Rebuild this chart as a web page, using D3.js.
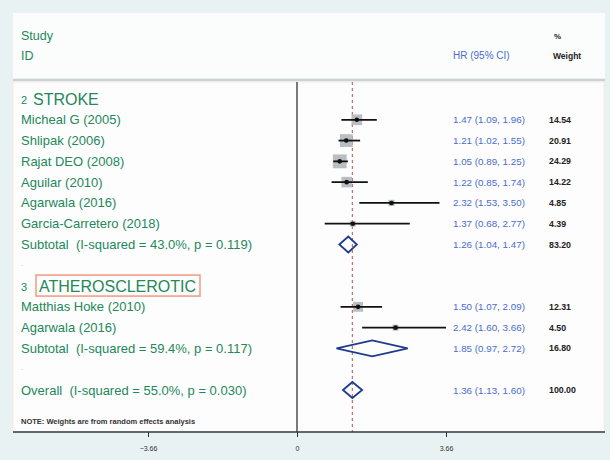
<!DOCTYPE html>
<html lang="en">
<head>
<meta charset="utf-8">
<title>Forest plot</title>
<script src="https://d3js.org/d3.v7.min.js"></script>
<style>
  body { margin: 0; background: #e9f2f3; }
  svg { display: block; font-family: "Liberation Sans", Arial, sans-serif; }
  text { white-space: pre; }
</style>
</head>
<body>
<svg width="610" height="460"></svg>
<script>
// data
const groupNums = ["2", "3"];
const groupNames = ["STROKE", "ATHEROSCLEROTIC"];

const strokeStudies = ["Micheal G (2005)", "Shlipak (2006)", "Rajat DEO (2008)", "Aguilar (2010)", "Agarwala (2016)", "Garcia-Carretero (2018)"];
const strokeHR = [1.47, 1.21, 1.05, 1.22, 2.32, 1.37];
const strokeLow = [1.09, 1.02, 0.89, 0.85, 1.53, 0.68];
const strokeHigh = [1.96, 1.55, 1.25, 1.74, 3.50, 2.77];
const strokeWeight = [14.54, 20.91, 24.29, 14.22, 4.85, 4.39];

const atheroStudies = ["Matthias Hoke (2010)", "Agarwala (2016)"];
const atheroHR = [1.50, 2.42];
const atheroLow = [1.07, 1.60];
const atheroHigh = [2.09, 3.66];
const atheroWeight = [12.31, 4.50];

const subtotalLabels = ["Subtotal  (I-squared = 43.0%, p = 0.119)", "Subtotal  (I-squared = 59.4%, p = 0.117)"];
const subtotalHR = [1.26, 1.85];
const subtotalLow = [1.04, 0.97];
const subtotalHigh = [1.47, 2.72];
const subtotalWeight = [83.20, 16.80];

const overallLabel = "Overall  (I-squared = 55.0%, p = 0.030)";
const overallHR = 1.36, overallLow = 1.13, overallHigh = 1.60, overallWeight = 100.00;

const xTicks = [-3.66, 0, 3.66];
const noteText = "NOTE: Weights are from random effects analysis";

// build the row list
const groups = [
  { studies: strokeStudies, hr: strokeHR, lo: strokeLow, hi: strokeHigh, w: strokeWeight },
  { studies: atheroStudies, hr: atheroHR, lo: atheroLow, hi: atheroHigh, w: atheroWeight }
];
const rows = [];
let idx = 0;
groups.forEach((g, gi) => {
  rows.push({ type: "head", row: idx++, num: groupNums[gi], label: groupNames[gi] });
  g.studies.forEach((s, i) => rows.push({ type: "study", row: idx++, label: s, hr: g.hr[i], lo: g.lo[i], hi: g.hi[i], w: g.w[i] }));
  rows.push({ type: "sub", row: idx++, label: subtotalLabels[gi], hr: subtotalHR[gi], lo: subtotalLow[gi], hi: subtotalHigh[gi], w: subtotalWeight[gi] });
  rows.push({ type: "blank", row: idx++ });
});
rows.push({ type: "sub", row: idx, label: overallLabel, hr: overallHR, lo: overallLow, hi: overallHigh, w: overallWeight, overall: true });

const green = "#23885a";
const blue = "#4a6ccc";
const navy = "#1f3c8c";

const svg = d3.select("svg");

const xScale = d3.scaleLinear().domain([-3.66, 3.66]).range([148, 446]);
const yScale = d3.scaleLinear().domain([0, idx]).range([99, 390]);
const side = d3.scaleSqrt().domain([0, 25]).range([0, 14]);
const f2 = d3.format(".2f");

// background panels
svg.append("rect").attr("width", 610).attr("height", 460).attr("fill", "#e9f2f3");
svg.append("rect").attr("x", 13).attr("y", 13).attr("width", 592).attr("height", 65).attr("fill", "#fbfcfc");
svg.append("line").attr("x1", 13).attr("x2", 605).attr("y1", 80).attr("y2", 80)
  .attr("stroke", "#c9d3d7").attr("stroke-width", 2);
svg.append("rect").attr("x", 13).attr("y", 82).attr("width", 591).attr("height", 350)
  .attr("fill", "#fdfdfd").attr("stroke", "#f3e6e2").attr("stroke-width", 0.8);

// header
svg.append("text").attr("x", 21).attr("y", 40).attr("fill", green).attr("font-size", 12.5).text("Study");
svg.append("text").attr("x", 21).attr("y", 60).attr("fill", green).attr("font-size", 12.5).text("ID");
svg.append("text").attr("x", 453).attr("y", 59).attr("fill", blue).attr("font-size", 10).text("HR (95% CI)");
svg.append("text").attr("x", 554).attr("y", 39).attr("fill", "#222").attr("font-size", 8).attr("font-weight", "bold").text("%");
svg.append("text").attr("x", 553).attr("y", 59).attr("fill", "#222").attr("font-size", 8.5).attr("font-weight", "bold").text("Weight");

// zero line and overall line
svg.append("line").attr("x1", xScale(0)).attr("x2", xScale(0)).attr("y1", 82).attr("y2", 432)
  .attr("stroke", "#333").attr("stroke-width", 1.3);
svg.append("line").attr("x1", xScale(overallHR)).attr("x2", xScale(overallHR)).attr("y1", 82).attr("y2", 432)
  .attr("stroke", "#c0706a").attr("stroke-width", 1.2).attr("stroke-dasharray", "3,3");

// axis
const axis = svg.append("g").attr("transform", "translate(0,432)")
  .call(d3.axisBottom(xScale).tickValues(xTicks).tickSize(5).tickFormat(d3.format(".2f")));
axis.select(".domain").remove();
axis.selectAll(".tick line").attr("stroke", "#333");
axis.selectAll(".tick text").attr("font-size", 7).attr("fill", "#333").attr("dy", "1.6em")
  .text(d => d === 0 ? "0" : d3.format(".2f")(d));
svg.append("line").attr("x1", 13).attr("x2", 605).attr("y1", 432).attr("y2", 432)
  .attr("stroke", "#2c3c44").attr("stroke-width", 1.5);

// group headings
const heads = rows.filter(r => r.type === "head");
heads.forEach(h => {
  const y = yScale(h.row);
  svg.append("text").attr("x", 21).attr("y", y + 5).attr("fill", green).attr("font-size", 11).text(h.num);
  if (h.label === "ATHEROSCLEROTIC") {
    svg.append("rect").attr("x", 36).attr("y", y - 11).attr("width", 164).attr("height", 21)
      .attr("fill", "none").attr("stroke", "#ee9a80").attr("stroke-width", 1.5);
  }
  svg.append("text").attr("x", h.label === "STROKE" ? 33 : 39).attr("y", y + 6)
    .attr("fill", green).attr("font-size", 16).text(h.label);
});

// blank-row dots
rows.filter(r => r.type === "blank").forEach(r => {
  svg.append("text").attr("x", 21).attr("y", yScale(r.row) + 1).attr("fill", "#99aadd").attr("font-size", 8).text(".");
});

// labels and numbers
const dataRows = rows.filter(r => r.type === "study" || r.type === "sub");
svg.selectAll("text.lab").data(dataRows).join("text").attr("class", "lab")
  .attr("x", 21).attr("y", d => yScale(d.row) + 4.5)
  .attr("fill", green).attr("font-size", 13).text(d => d.label);
svg.selectAll("text.ci").data(dataRows).join("text").attr("class", "ci")
  .attr("x", 453).attr("y", d => yScale(d.row) + 3.5)
  .attr("fill", blue).attr("font-size", 9.8)
  .text(d => `${f2(d.hr)} (${f2(d.lo)}, ${f2(d.hi)})`);
svg.selectAll("text.wt").data(dataRows).join("text").attr("class", "wt")
  .attr("x", 549).attr("y", d => yScale(d.row) + 3)
  .attr("fill", "#222").attr("font-size", 8.8).attr("font-weight", "bold")
  .text(d => f2(d.w));

// study boxes, CIs, points
const studies = rows.filter(r => r.type === "study");
svg.selectAll("rect.box").data(studies).join("rect").attr("class", "box")
  .attr("x", d => xScale(d.hr) - side(d.w) / 2).attr("y", d => yScale(d.row) - side(d.w) / 2)
  .attr("width", d => side(d.w)).attr("height", d => side(d.w))
  .attr("fill", "#b9bec2");
svg.selectAll("line.ciline").data(studies).join("line").attr("class", "ciline")
  .attr("x1", d => xScale(d.lo)).attr("x2", d => xScale(d.hi))
  .attr("y1", d => yScale(d.row)).attr("y2", d => yScale(d.row))
  .attr("stroke", "#111").attr("stroke-width", 1.8);
svg.selectAll("circle.pt").data(studies).join("circle").attr("class", "pt")
  .attr("cx", d => xScale(d.hr)).attr("cy", d => yScale(d.row)).attr("r", 2.3)
  .attr("fill", "#111");

// diamonds
const subs = rows.filter(r => r.type === "sub");
svg.selectAll("path.dia").data(subs).join("path").attr("class", "dia")
  .attr("d", d => {
    const y = yScale(d.row), h = 8;
    return `M${xScale(d.lo)},${y}L${xScale(d.hr)},${y - h}L${xScale(d.hi)},${y}L${xScale(d.hr)},${y + h}Z`;
  })
  .attr("fill", "none").attr("stroke", navy).attr("stroke-width", 1.8);

// note
svg.append("text").attr("x", 21).attr("y", 424).attr("fill", "#333").attr("font-size", 7.5)
  .attr("font-weight", "bold").text(noteText);
</script>
</body>
</html>
